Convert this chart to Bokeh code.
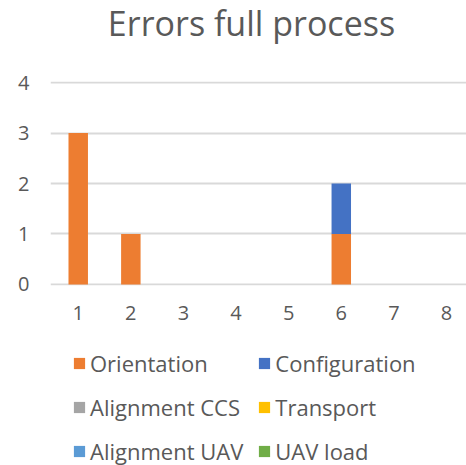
from bokeh.plotting import figure
from bokeh.layouts import column
from bokeh.models import ColumnDataSource, Range1d, Legend, FixedTicker, Label
from bokeh.embed import file_html
from bokeh.resources import INLINE

runs = [1, 2, 3, 4, 5, 6, 7, 8]
orientation = [3, 1, 0, 0, 0, 1, 0, 0]
configuration = [0, 0, 0, 0, 0, 1, 0, 0]
alignment_ccs = [0, 0, 0, 0, 0, 0, 0, 0]
transport = [0, 0, 0, 0, 0, 0, 0, 0]
alignment_uav = [0, 0, 0, 0, 0, 0, 0, 0]
uav_load = [0, 0, 0, 0, 0, 0, 0, 0]

title_text = "Errors full process"
series_names = ["Orientation", "Configuration", "Alignment CCS", "Transport", "Alignment UAV", "UAV load"]
series_keys = ["orientation", "configuration", "alignment_ccs", "transport", "alignment_uav", "uav_load"]
colors = ["#ED7D31", "#4472C4", "#A5A5A5", "#FFC000", "#5B9BD5", "#70AD47"]
y_ticks = [0, 1, 2, 3, 4]

src = ColumnDataSource(dict(x=runs, orientation=orientation, configuration=configuration,
                            alignment_ccs=alignment_ccs, transport=transport,
                            alignment_uav=alignment_uav, uav_load=uav_load))

FONT = "Open Sans"
TXT = "#595959"


def blank(fig):
    fig.outline_line_color = None
    fig.background_fill_color = "white"
    fig.border_fill_color = "white"


# ---- title strip (its frame is aligned with the chart frame by the column) ----
tf = figure(output_backend="svg", toolbar_location=None, width=466, height=69,
            x_axis_type=None, y_axis_type=None,
            x_range=Range1d(0, 1), y_range=Range1d(0, 1),
            min_border_left=50, min_border_right=0, min_border_top=0, min_border_bottom=0)
blank(tf)
tf.add_layout(Label(x=201, y=47, x_units="screen", y_units="screen", text=title_text,
                    text_align="center", text_baseline="alphabetic",
                    text_font=FONT, text_font_size="34px", text_color=TXT))

# ---- main chart ----
p = figure(output_backend="svg", toolbar_location=None,
           frame_width=416, frame_height=204,
           x_range=Range1d(0.473, 8.38), y_range=Range1d(-0.02, 4.02),
           min_border_left=50, min_border_right=0, min_border_top=12, min_border_bottom=41)
blank(p)

renderers = p.vbar_stack(series_keys, x="x", width=0.37, source=src,
                         color=colors, line_color=None)

p.xaxis.ticker = FixedTicker(ticks=runs)
p.yaxis.ticker = FixedTicker(ticks=y_ticks)
for ax in (p.xaxis[0], p.yaxis[0]):
    ax.axis_line_color = None
    ax.major_tick_line_color = None
    ax.minor_tick_line_color = None
    ax.major_label_text_font = FONT
    ax.major_label_text_font_size = "20px"
    ax.major_label_text_color = TXT
p.xaxis.major_label_standoff = 14
p.yaxis.major_label_standoff = 15
p.xgrid.grid_line_color = None
p.ygrid.grid_line_color = "#D9D9D9"
p.ygrid.grid_line_width = 2

# ---- legend strip (same series; its renderers hidden, only the legend shows) ----
lf = figure(output_backend="svg", toolbar_location=None, width=466, height=139,
            x_axis_type=None, y_axis_type=None,
            x_range=Range1d(100, 101), y_range=Range1d(100, 101),
            min_border_left=50, min_border_right=0, min_border_top=0, min_border_bottom=0)
blank(lf)
lrs = lf.vbar_stack(series_keys, x="x", width=0.37, source=src,
                    color=colors, line_color=None)
for r in lrs:
    r.visible = False

legend = Legend(items=[(n, [r]) for n, r in zip(series_names, lrs)],
                ncols=2, location="top_left", orientation="horizontal")
legend.border_line_color = None
legend.background_fill_alpha = 0
legend.label_text_font = FONT
legend.label_text_font_size = "22px"
legend.label_text_color = TXT
legend.glyph_width = 14
legend.glyph_height = 14
legend.label_height = 30
legend.label_width = 153
legend.label_standoff = 4
legend.spacing = 14
legend.padding = 0
legend.margin = 22
lf.add_layout(legend, "center")

layout = column(tf, p, lf, spacing=0)
open("out.html", "w").write(file_html(layout, INLINE))
